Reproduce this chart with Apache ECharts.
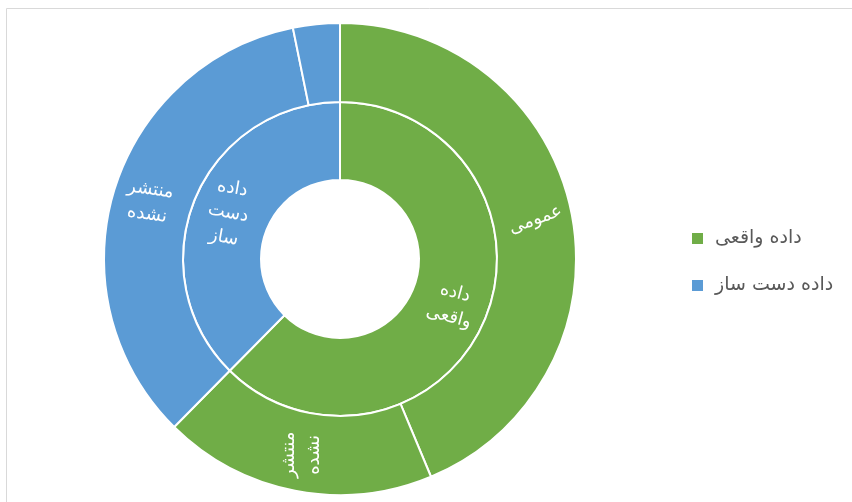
<!DOCTYPE html>
<html>
<head>
<meta charset="utf-8">
<script src="https://cdn.jsdelivr.net/npm/echarts@6/dist/echarts.min.js"></script>
<style>
  html, body { margin: 0; padding: 0; background: #fff; }
</style>
</head>
<body>
<div id="chart" style="width: 852px; height: 502px;"></div>
<script>
// inner ring: data type
const innerNames = ['داده واقعی', 'داده دست ساز'];
const innerValues = [62.4, 37.6];
const innerColors = ['#70AD47', '#5B9BD5'];
// outer ring: publication status
const outerNames = ['عمومی', 'منتشر نشده', 'منتشر نشده', 'عمومی'];
const outerValues = [43.7, 18.7, 34.4, 3.2];
const outerColors = ['#70AD47', '#70AD47', '#5B9BD5', '#5B9BD5'];
const outerShowLabel = [true, true, true, false];
// label tilt, like the original
const innerRotate = [-15, -10];
const outerRotate = [20, 90, -8, 0];

const font = "'DejaVu Sans', sans-serif";

const labelBase = {
  show: true,
  position: 'inside',
  color: '#fff',
  fontSize: 18,
  lineHeight: 25,
  fontFamily: font,
  formatter: p => p.name.split(' ').join('\n')
};

let option = {
  animation: false,
  graphic: [{
    type: 'rect',
    shape: { x: 6.5, y: 8.5, width: 900, height: 600 },
    style: { fill: 'none', stroke: '#d9d9d9', lineWidth: 1 },
    silent: true
  }],
  legend: {
    data: innerNames,
    orient: 'vertical',
    left: 690,
    top: 229,
    padding: 0,
    itemWidth: 13,
    itemHeight: 13,
    itemGap: 28,
    icon: 'rect',
    textStyle: { color: '#595959', fontSize: 19, fontFamily: font, padding: [0, 0, 0, 6] }
  },
  series: [
    {
      name: 'inner',
      type: 'pie',
      center: [340, 259],
      radius: [79, 157],
      startAngle: 90,
      silent: true,
      itemStyle: { borderColor: '#fff', borderWidth: 2 },
      labelLine: { show: false },
      data: innerNames.map((n, i) => ({
        name: n,
        value: innerValues[i],
        itemStyle: { color: innerColors[i] },
        label: Object.assign({}, labelBase, { rotate: innerRotate[i] })
      }))
    },
    {
      name: 'outer',
      type: 'pie',
      center: [340, 259],
      radius: [157, 236],
      startAngle: 90,
      silent: true,
      itemStyle: { borderColor: '#fff', borderWidth: 2 },
      labelLine: { show: false },
      data: outerNames.map((n, i) => ({
        name: n,
        value: outerValues[i],
        itemStyle: { color: outerColors[i] },
        label: Object.assign({}, labelBase, { rotate: outerRotate[i], show: outerShowLabel[i] })
      }))
    }
  ]
};

let myChart = echarts.init(document.getElementById('chart'));
myChart.setOption(option);
</script>
</body>
</html>
